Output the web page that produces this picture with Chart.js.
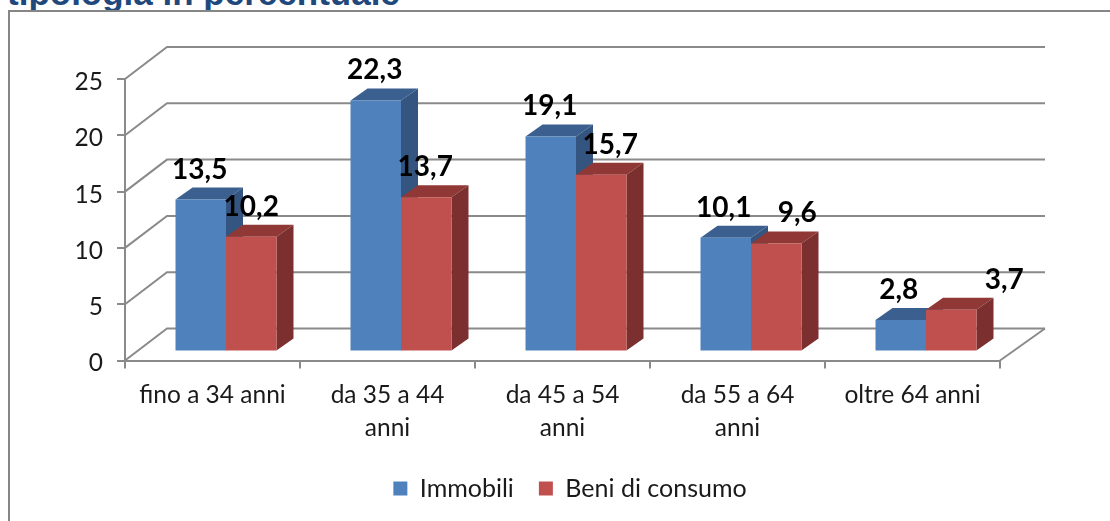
<!DOCTYPE html>
<html>
<head>
<meta charset="utf-8">
<title>tipologia in percentuale</title>
<script src="https://cdn.jsdelivr.net/npm/chart.js@4"></script>
<style>
    html, body { margin: 0; padding: 0; background: #fff; overflow: hidden; }
    #title { position: absolute; left: 7px; top: -27px; font: bold 35px "Liberation Sans", sans-serif; color: #1f497d; white-space: nowrap; }
    #frame { position: absolute; left: 8px; top: 10px; width: 1110px; height: 600px; border: 2px solid #868686; }
    #chart { position: absolute; left: 0; top: 0; }
</style>
</head>
<body>
<div id="title">tipologia in percentuale</div>
<div id="frame"></div>
<canvas id="chart" width="1110" height="521"></canvas>
<script>
const categories = [['fino a 34 anni'], ['da 35 a 44', 'anni'], ['da 45 a 54', 'anni'], ['da 55 a 64', 'anni'], ['oltre 64 anni']];
const immobili = [13.5, 22.3, 19.1, 10.1, 2.8];
const beniDiConsumo = [10.2, 13.7, 15.7, 9.6, 3.7];
const yTicks = [0, 5, 10, 15, 20, 25];

// spostamento delle etichette rispetto alla barra, come nel grafico originale
const nudgeImmobili = [-1, -1, -1, -2, -2];
const nudgeBeni = [0, -1, 9, 21, 53];

const gridColor = '#8a8a8a';
const fontFamily = 'Lato, "Noto Sans", sans-serif';

// profondità della vista 3D
const wall = { dx: 42, dy: -32 };
const front = { dx: 13.5, dy: -9 };
const depth = { dx: 17, dy: -12 };

const shades = [
    { top: '#3b6090', side: '#34557f' },
    { top: '#8f3836', side: '#7b2f2e' }
];

function poly(ctx, pts, color) {
    ctx.fillStyle = color;
    ctx.beginPath();
    pts.forEach((p, i) => i ? ctx.lineTo(p[0], p[1]) : ctx.moveTo(p[0], p[1]));
    ctx.closePath();
    ctx.fill();
}

const fake3d = {
    id: 'fake3d',
    afterLayout(chart) {
        // legenda centrata come nel riferimento
        const shift = 570 - (chart.legend.left + chart.legend.right) / 2;
        chart.legend.left += shift;
        chart.legend.right += shift;
    },
    beforeDatasetsDraw(chart) {
        const { ctx, chartArea, scales } = chart;
        ctx.save();
        ctx.strokeStyle = gridColor;
        ctx.lineWidth = 2;
        yTicks.forEach(t => {
            const y = scales.y.getPixelForValue(t);
            ctx.beginPath();
            ctx.moveTo(chartArea.left, y);
            ctx.lineTo(chartArea.left + wall.dx, y + wall.dy);
            ctx.lineTo(chartArea.right + wall.dx + 3, y + wall.dy);
            ctx.stroke();
        });
        const y0 = scales.y.getPixelForValue(0);
        ctx.beginPath();
        ctx.moveTo(chartArea.right, y0);
        ctx.lineTo(chartArea.right + wall.dx + 3, y0 + wall.dy);
        ctx.stroke();
        ctx.restore();
    },
    // le barre si disegnano dopo, Immobili per prima: Beni di consumo sta davanti
    beforeDatasetDraw() {
        return false;
    },
    afterDatasetsDraw(chart) {
        const { ctx } = chart;
        [0, 1].forEach(ds => {
            const meta = chart.getDatasetMeta(ds);
            const c = shades[ds];
            ctx.save();
            ctx.translate(front.dx, front.dy);
            meta.data.forEach(bar => {
                const l = bar.x - bar.width / 2, r = bar.x + bar.width / 2;
                poly(ctx, [[l, bar.y], [r, bar.y], [r + depth.dx, bar.y + depth.dy], [l + depth.dx, bar.y + depth.dy]], c.top);
                poly(ctx, [[r, bar.y], [r + depth.dx, bar.y + depth.dy], [r + depth.dx, bar.base + depth.dy], [r, bar.base]], c.side);
            });
            meta.controller.draw();
            ctx.restore();
        });

        ctx.save();
        ctx.font = 'bold 28px ' + fontFamily;
        ctx.fillStyle = '#000';
        ctx.textAlign = 'center';
        ctx.textBaseline = 'middle';
        [nudgeImmobili, nudgeBeni].forEach((nudge, ds) => {
            const values = chart.data.datasets[ds].data;
            chart.getDatasetMeta(ds).data.forEach((bar, i) => {
                const text = values[i].toFixed(1).replace('.', ',');
                ctx.fillText(text, bar.x + front.dx + nudge[i], bar.y + front.dy - 30);
            });
        });
        ctx.restore();
    }
};

new Chart(document.getElementById('chart'), {
    type: 'bar',
    data: {
        labels: categories,
        datasets: [
            { label: 'Immobili', data: immobili, backgroundColor: '#4f81bd' },
            { label: 'Beni di consumo', data: beniDiConsumo, backgroundColor: '#c0504d' }
        ]
    },
    options: {
        responsive: false,
        animation: false,
        layout: { padding: { top: 79, left: 0, right: 110, bottom: 10 } },
        datasets: { bar: { categoryPercentage: 0.577, barPercentage: 1 } },
        plugins: {
            tooltip: { enabled: false },
            legend: {
                position: 'bottom',
                labels: {
                    boxWidth: 14,
                    boxHeight: 14,
                    padding: 25,
                    color: '#1a1a1a',
                    font: { family: fontFamily, size: 25 }
                }
            }
        },
        scales: {
            x: {
                afterFit: scale => { scale.height = 90.5; },
                grid: { offset: true, drawOnChartArea: false, tickLength: 8, color: gridColor, lineWidth: 2 },
                border: { color: gridColor, width: 2 },
                ticks: { color: '#1a1a1a', maxRotation: 0, autoSkip: false, padding: 10, font: { family: fontFamily, size: 24.5, lineHeight: 1.34 } }
            },
            y: {
                min: 0,
                max: 25,
                afterFit: scale => { scale.width = 125; },
                grid: { drawOnChartArea: false, tickLength: 8, color: gridColor, lineWidth: 2 },
                border: { color: gridColor, width: 2 },
                ticks: { stepSize: 5, color: '#1a1a1a', padding: 14, labelOffset: 3, font: { family: fontFamily, size: 24.5 } }
            }
        }
    },
    plugins: [fake3d]
});
</script>
</body>
</html>
